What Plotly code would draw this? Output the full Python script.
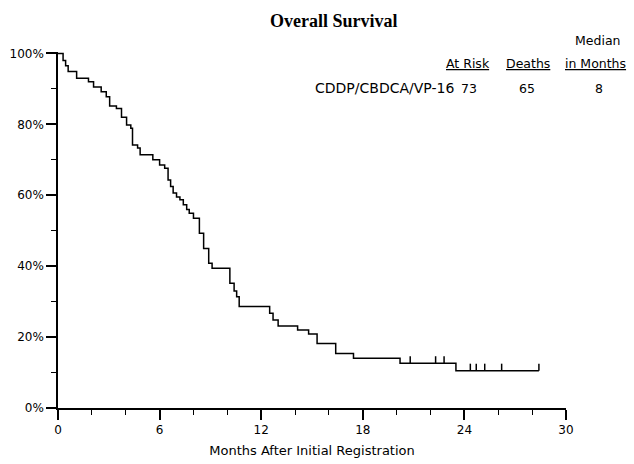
import plotly.graph_objects as go

# Kaplan-Meier step curve (months, % surviving after the step)
step_months = [0, 0.3, 0.45, 0.6, 1.1, 1.8, 2.1, 2.55, 2.85, 3.05, 3.45, 3.75, 4.05, 4.3,
               4.4, 4.7, 4.85, 5.6, 6.0, 6.3, 6.5, 6.65, 6.8, 7.0, 7.2, 7.4, 7.6, 7.75,
               8.0, 8.35, 8.6, 8.9, 9.1, 10.15, 10.4, 10.55, 10.7, 12.5, 12.7, 13.0,
               14.15, 14.8, 15.3, 16.4, 17.45, 20.2, 23.5, 28.4]
step_surv = [100, 98, 96.5, 94.9, 93.0, 92.0, 90.5, 89.2, 87.8, 85.2, 84.5, 82.0, 79.8, 78.9,
             74.2, 73.3, 71.4, 70.0, 68.5, 67.6, 64.3, 62.5, 60.6, 59.5, 58.7, 57.3, 56.0, 54.9,
             53.5, 49.3, 45.0, 40.8, 39.4, 35.2, 33.0, 31.4, 28.6, 26.7, 24.8, 23.1,
             22.0, 20.9, 18.2, 15.4, 14.0, 12.6, 10.5, 10.5]

# Censored observations
censor_months = [20.8, 22.3, 22.8, 24.35, 24.7, 25.2, 26.2, 28.4]
censor_surv = [12.6, 12.6, 12.6, 10.5, 10.5, 10.5, 10.5, 10.5]

# Summary table
table_headers = ["At Risk", "Deaths", "in Months"]
median_header = "Median"
arm_name = "CDDP/CBDCA/VP-16"
at_risk = 73
deaths = 65
median_months = 8

x_ticks = [0, 6, 12, 18, 24, 30]
y_ticks = [0, 20, 40, 60, 80, 100]
y_tick_labels = [f"{v}%" for v in y_ticks]

FONT = "DejaVu Sans"

fig = go.Figure()
fig.add_trace(go.Scatter(
    x=step_months, y=step_surv, mode="lines", line=dict(shape="hv", color="black", width=1.5),
    showlegend=False, hoverinfo="skip"))
fig.add_trace(go.Scatter(
    x=censor_months, y=censor_surv, mode="markers",
    marker=dict(size=1, color="rgba(0,0,0,0)"),
    error_y=dict(type="constant", value=2, valueminus=0, symmetric=False,
                 width=0, thickness=1.5, color="black"),
    showlegend=False, hoverinfo="skip"))

fig.update_layout(
    width=634, height=464,
    margin=dict(l=58, r=68, t=52, b=56),
    paper_bgcolor="white", plot_bgcolor="white",
    font=dict(family=FONT, size=12, color="black"),
    xaxis=dict(range=[0, 30], tickvals=x_ticks, ticks="outside", ticklen=10, tickwidth=1.5,
               tickcolor="black", showline=True, linecolor="black", linewidth=1.5,
               showgrid=False, zeroline=False, automargin=False,
               minor=dict(dtick=2, tick0=0, ticks="outside", ticklen=5, tickwidth=1.2,
                          tickcolor="black", showgrid=False),
               title=dict(text="Months After Initial Registration", standoff=10,
                          font=dict(size=13)),
               tickfont=dict(size=12)),
    yaxis=dict(range=[0, 100.4], tickvals=y_ticks, ticktext=y_tick_labels, ticks="outside",
               ticklen=10, tickwidth=1.5, tickcolor="black", showline=True, linecolor="black",
               linewidth=1.5, showgrid=False, zeroline=False, automargin=False,
               minor=dict(dtick=10, tick0=0, ticks="outside", ticklen=5, tickwidth=1.2,
                          tickcolor="black", showgrid=False),
               tickfont=dict(size=12)),
)

ann = []
ann.append(dict(text="<b>Overall Survival</b>", x=334, y=21,
                font=dict(family="Liberation Serif", size=18)))
ann.append(dict(text=median_header, x=597, y=41))
for t, cx in zip(table_headers, [468, 528, 595]):
    ann.append(dict(text="<u>" + t + "</u>", x=cx, y=64))
ann.append(dict(text=arm_name, x=456, y=88, xanchor="right",
                font=dict(family=FONT, size=14)))
ann.append(dict(text=str(at_risk), x=469, y=88))
ann.append(dict(text=str(deaths), x=527, y=88))
ann.append(dict(text=str(median_months), x=599, y=88))

for a in ann:
    fig.add_annotation(
        text=a["text"], xref="paper", yref="paper",
        x=(a["x"] - 58) / (634 - 58 - 68), y=1 - (a["y"] - 52) / (464 - 52 - 56),
        xanchor=a.get("xanchor", "center"), yanchor="middle", showarrow=False,
        font=a.get("font", dict(family=FONT, size=12.5)))

fig.write_html("out.html", config={"displayModeBar": False},
               post_script="document.body.style.margin='0';")
